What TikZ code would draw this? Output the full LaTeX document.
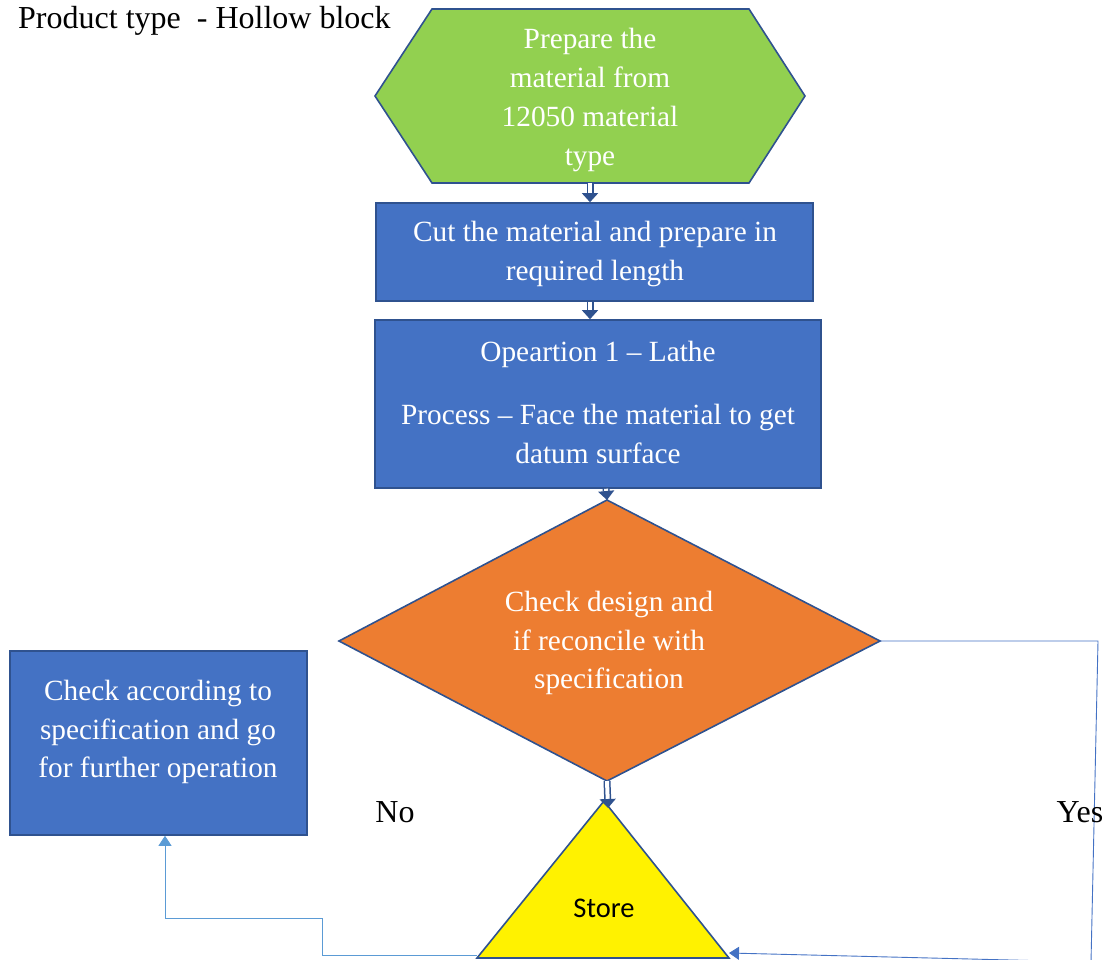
\documentclass[tikz,border=0pt]{standalone}
\usepackage{fontspec}
\setmainfont{Liberation Serif}
\newfontfamily\calibrifont{Carlito}
\usetikzlibrary{arrows.meta}
\definecolor{edgeblue}{HTML}{2F528F}
\definecolor{boxblue}{HTML}{4472C4}
\definecolor{lightline}{HTML}{5B9BD5}
\definecolor{hexgreen}{HTML}{92D050}
\definecolor{decorange}{HTML}{ED7D31}
\tikzset{
  shapeedge/.style={draw=edgeblue, line width=1.6pt, line join=miter},
  boxstyle/.style={shapeedge, fill=boxblue},
  wtext/.style={text=white, align=center, font=\fontsize{29.3}{38.7}\selectfont, inner sep=0pt},
  btext/.style={text=black, font=\fontsize{32}{36}\selectfont, inner sep=0pt},
  flowarrow/.style={draw=edgeblue, line width=1.5pt, double=white, double distance=4pt,
    -{Triangle[width=16pt,length=9pt,fill=edgeblue]}},
  thinlink/.style={draw=boxblue, line width=0.9pt},
}
\begin{document}
\begin{tikzpicture}[x=1pt,y=-1pt]
\useasboundingbox (0,0) rectangle (1105,960);

% title
\node[btext, anchor=base west] (title) at (18,29) {Product type\ \ - Hollow block};

% hexagon: start
\coordinate (h1) at (375,96);
\coordinate (h2) at (432,9);
\coordinate (h3) at (749,9);
\coordinate (h4) at (805,96);
\coordinate (h5) at (749,183);
\coordinate (h6) at (432,183);
\coordinate (hexbot) at (590,183);
\path[shapeedge, fill=hexgreen] (h1) -- (h2) -- (h3) -- (h4) -- (h5) -- (h6) -- cycle;
\node[wtext] (hextext) at (590,100) {Prepare the\\material from\\12050 material\\type};

% cutting step
\node[boxstyle, minimum width=437pt, minimum height=98pt, inner sep=0pt] (cut) at (594.5,252) {};
\node[wtext] (cuttext) at (595,254) {Cut the material and prepare in\\required length};

% lathe operation
\node[boxstyle, minimum width=446pt, minimum height=168pt, inner sep=0pt] (lathe) at (598,404) {};
\node[wtext, anchor=base] (lathe1) at (598,361) {Opeartion 1 -- Lathe};
\node[wtext, anchor=base] (lathe2) at (598,424) {Process -- Face the material to get};
\node[wtext, anchor=base] (lathe3) at (598,463) {datum surface};

% decision
\coordinate (dtop) at (607,500);
\coordinate (dleft) at (339,641);
\coordinate (dright) at (880,641);
\coordinate (dbot) at (607,781);
\path[shapeedge, fill=decorange] (dtop) -- (dright) -- (dbot) -- (dleft) -- cycle;
\node[wtext] (dtext) at (609,643) {Check design and\\if reconcile with\\specification};

% side check box
\node[boxstyle, minimum width=297pt, minimum height=184pt, inner sep=0pt] (side) at (158.5,743) {};
\node[wtext] (sidetext) at (158,732) {Check according to\\specification and go\\for further operation};

% store
\coordinate (tapex) at (604,801);
\coordinate (tleft) at (477,958);
\coordinate (tright) at (729,958);
\path[shapeedge, fill=yellow] (tapex) -- (tright) -- (tleft) -- cycle;
\node[text=black, font=\calibrifont\fontsize{28.5}{32}\selectfont, inner sep=0pt] (store) at (604,908) {Store};

% flow arrows
\draw[flowarrow] (hexbot) -- (cut.north -| hexbot);
\draw[flowarrow] (cut.south -| hexbot) -- (lathe.north -| hexbot);
\draw[flowarrow] (lathe.south -| dtop) ++(-1,0) -- (dtop);
\coordinate (dbotend) at (608,808);
\draw[flowarrow] (dbot) -- (dbotend);

% yes branch
\coordinate (yes1) at (1098,641);
\coordinate (yes2) at (1091,962);
\coordinate (yesend) at (729,953);
\draw[thinlink, -{Triangle[width=13pt,length=10pt]}] (dright) -- (yes1) -- (yes2) -- (yesend);

% no branch
\coordinate (no1) at (322,955);
\coordinate (no2) at (322,918);
\coordinate (no3) at (165,918);
\draw[draw=lightline, line width=0.9pt, -{Triangle[width=13pt,length=10pt]}] (tleft) ++(0,-3) -- (no1) -- (no2) -- (no3) -- (no3 |- side.south);

% branch labels
\node[btext, anchor=base] (nolabel) at (395,822) {No};
\node[btext, anchor=base] (yeslabel) at (1080,822) {Yes};
\end{tikzpicture}
\end{document}
